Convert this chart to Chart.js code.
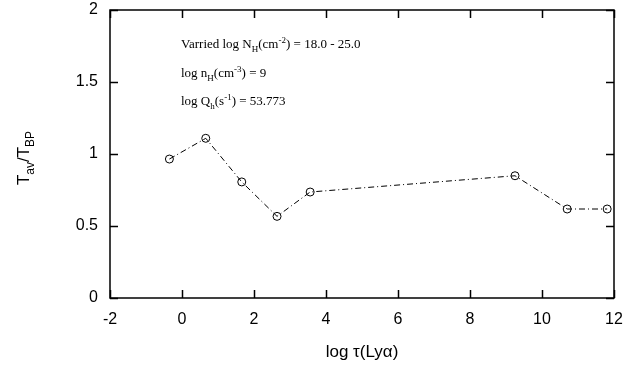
<!DOCTYPE html>
<html>
<head>
<meta charset="utf-8">
<script src="https://cdn.jsdelivr.net/npm/chart.js@4"></script>
<style>
  body { margin: 0; background: #fff; }
  #chart { display: block; }
</style>
</head>
<body>
<canvas id="chart" width="628" height="369"></canvas>
<script>
const LOG_TAU = [-0.35, 0.66, 1.66, 2.64, 3.56, 9.25, 10.70, 11.81];
const T_RATIO = [0.965, 1.109, 0.806, 0.567, 0.736, 0.849, 0.618, 0.618];
const X_TICKS = [-2, 0, 2, 4, 6, 8, 10, 12];
const Y_TICKS = [0, 0.5, 1, 1.5, 2];

const ANNOTATION_LINES = [
  [['Varried log N', 'n'], ['H', 'sub'], ['(cm', 'n'], ['-2', 'sup'], [') = 18.0 - 25.0', 'n']],
  [['log n', 'n'], ['H', 'sub'], ['(cm', 'n'], ['-3', 'sup'], [') = 9', 'n']],
  [['log Q', 'n'], ['h', 'sub'], ['(s', 'n'], ['-1', 'sup'], [') = 53.773', 'n']]
];
const Y_TITLE = [['T', 'n'], ['av', 'sub'], ['/T', 'n'], ['BP', 'sub']];

const SANS = '"Liberation Sans", Arial, sans-serif';
const SERIF = '"Liberation Serif", "Times New Roman", serif';

// draws text made of normal / subscript / superscript pieces, returns width
function drawRich(ctx, parts, x, y, family, size, measureOnly) {
  let w = 0;
  parts.forEach(([txt, kind]) => {
    const sz = kind === 'n' ? size : Math.round(size * 0.72);
    const dy = kind === 'sub' ? size * 0.3 : kind === 'sup' ? -size * 0.42 : 0;
    ctx.font = sz + 'px ' + family;
    if (!measureOnly) ctx.fillText(txt, x + w, y + dy);
    w += ctx.measureText(txt).width;
  });
  return w;
}

const framePlugin = {
  id: 'frame',
  afterDraw(chart) {
    const { ctx, chartArea: { left, right, top, bottom }, scales: { x, y } } = chart;
    ctx.save();
    ctx.strokeStyle = '#000';
    ctx.lineWidth = 1.5;
    ctx.strokeRect(left, top, right - left, bottom - top);
    const tl = 8;
    ctx.beginPath();
    X_TICKS.forEach(v => {
      const px = Math.round(x.getPixelForValue(v)) + 0.5;
      ctx.moveTo(px, bottom); ctx.lineTo(px, bottom - tl);
      ctx.moveTo(px, top); ctx.lineTo(px, top + tl);
    });
    Y_TICKS.forEach(v => {
      const py = Math.round(y.getPixelForValue(v)) + 0.5;
      ctx.moveTo(left, py); ctx.lineTo(left + tl, py);
      ctx.moveTo(right, py); ctx.lineTo(right - tl, py);
    });
    ctx.stroke();

    // annotations
    ctx.fillStyle = '#000';
    ctx.textBaseline = 'alphabetic';
    ctx.textAlign = 'left';
    const baselines = [48, 77, 105];
    ANNOTATION_LINES.forEach((parts, i) => {
      drawRich(ctx, parts, 181, baselines[i], SERIF, 13);
    });

    // y axis title with subscripts
    ctx.translate(29, 158);
    ctx.rotate(-Math.PI / 2);
    const w = drawRich(ctx, Y_TITLE, 0, 0, SANS, 17, true);
    drawRich(ctx, Y_TITLE, -w / 2, 0, SANS, 17);
    ctx.restore();
  }
};

const points = LOG_TAU.map((v, i) => ({ x: v, y: T_RATIO[i] }));

new Chart(document.getElementById('chart'), {
  type: 'scatter',
  data: {
    datasets: [{
      data: points,
      showLine: true,
      borderColor: '#000',
      borderWidth: 1,
      borderDash: [6, 3, 1, 3],
      pointRadius: 4,
      pointHoverRadius: 4,
      pointBorderColor: '#000',
      pointBackgroundColor: 'rgba(0,0,0,0)',
      pointBorderWidth: 1
    }]
  },
  options: {
    responsive: false,
    animation: false,
    layout: { padding: { top: 10, right: 14, left: 0, bottom: 0 } },
    plugins: {
      legend: { display: false },
      tooltip: { enabled: false }
    },
    scales: {
      x: {
        type: 'linear',
        min: -2,
        max: 12,
        afterBuildTicks: (s) => { s.ticks = X_TICKS.map(v => ({ value: v })); },
        afterFit: (s) => { s.height = 71; s.paddingLeft = 0; s.paddingRight = 0; },
        grid: { display: false, drawTicks: false },
        border: { display: false },
        ticks: { color: '#000', font: { family: SANS, size: 16 }, padding: 12, maxRotation: 0, callback: v => String(v) },
        title: {
          display: true,
          text: 'log τ(Lyα)',
          color: '#000',
          font: { family: SANS, size: 17 },
          padding: { top: 0, bottom: 6 }
        }
      },
      y: {
        min: 0,
        max: 2,
        afterBuildTicks: (s) => { s.ticks = Y_TICKS.map(v => ({ value: v })); },
        afterFit: (s) => { s.width = 110; s.paddingTop = 0; s.paddingBottom = 0; },
        grid: { display: false, drawTicks: false },
        border: { display: false },
        ticks: { color: '#000', font: { family: SANS, size: 16 }, padding: 12, callback: v => String(v) }
      }
    }
  },
  plugins: [framePlugin]
});
</script>
</body>
</html>
